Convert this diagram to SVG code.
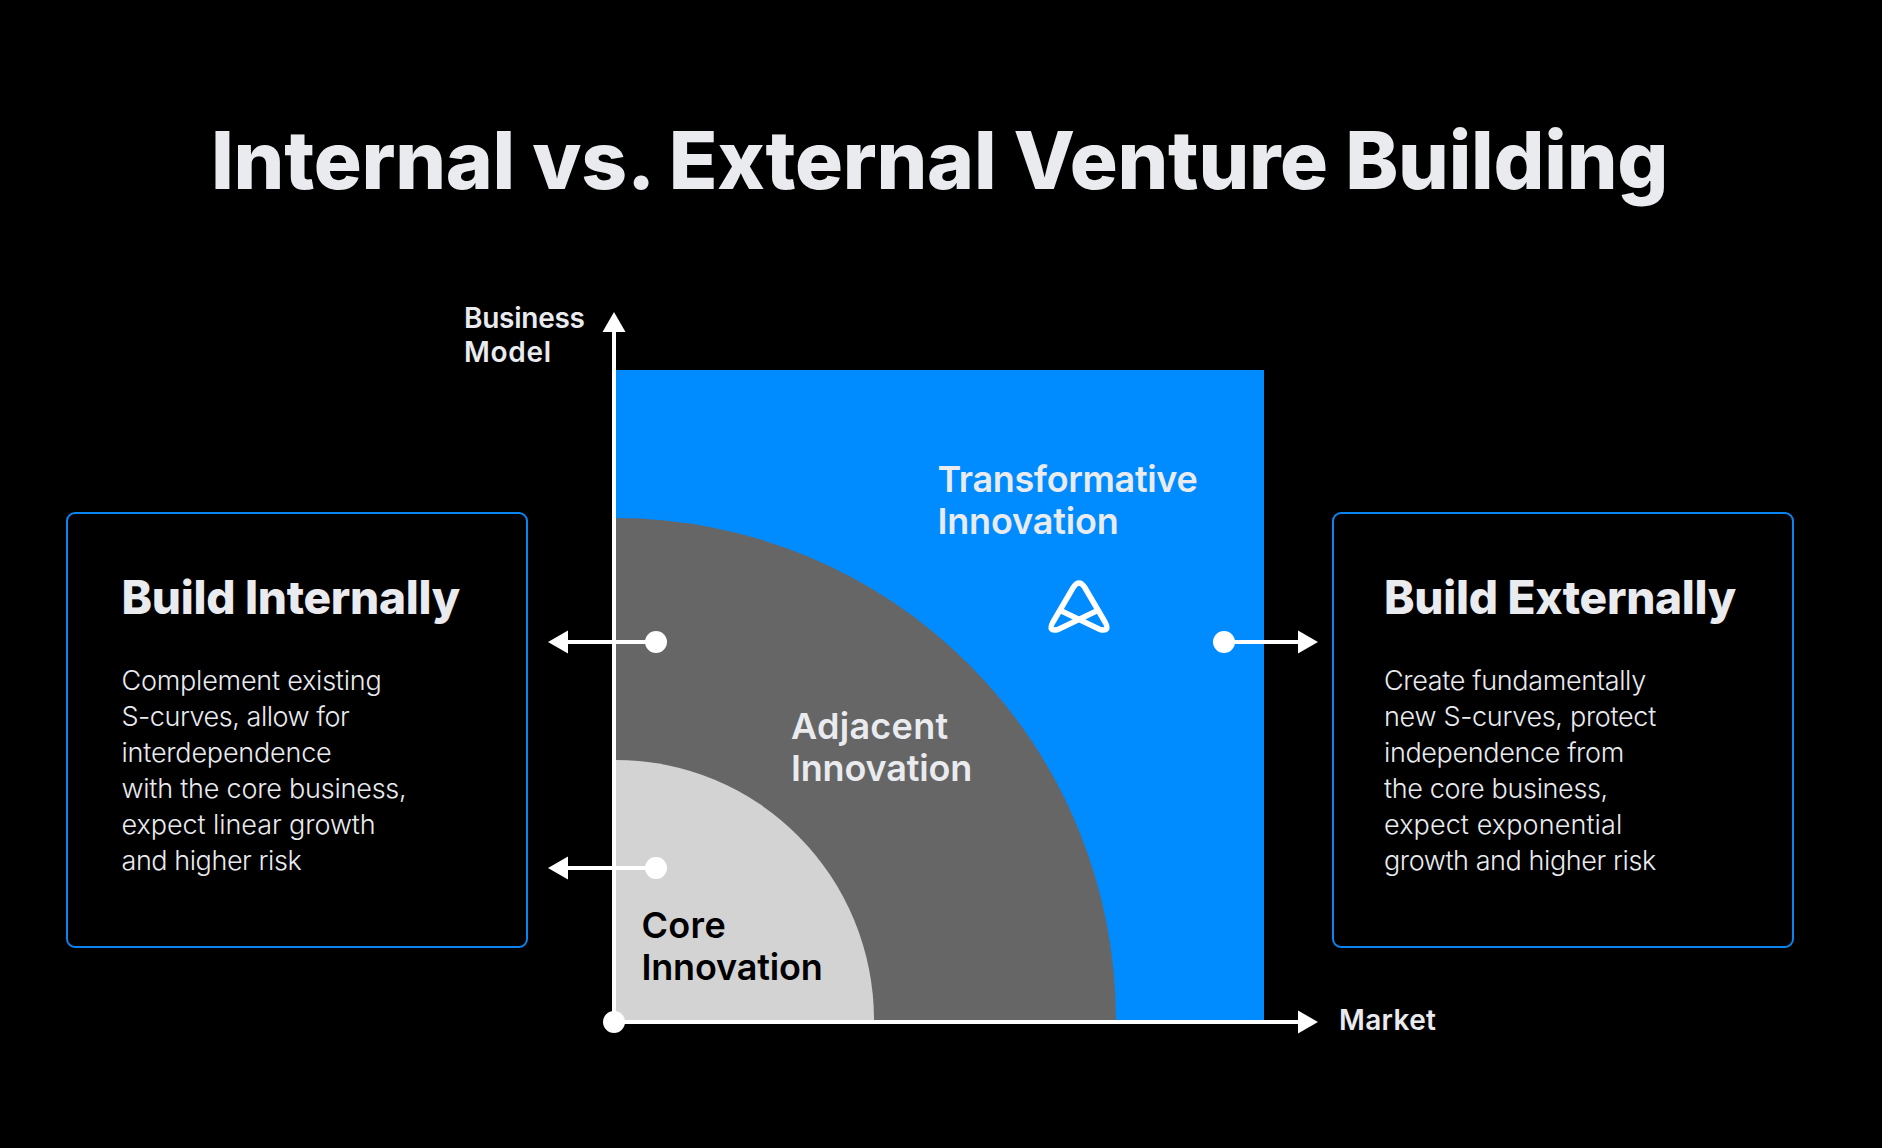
<svg xmlns="http://www.w3.org/2000/svg" width="1882" height="1148" viewBox="0 0 1882 1148">
<style>
text{font-family:Inter,"Liberation Sans",sans-serif;fill:#e9ebef}
.title{font-size:80px;font-weight:800;letter-spacing:-.24px}
.head{font-size:46px;font-weight:800;letter-spacing:-.3px}
.body{font-size:27px;font-weight:300;letter-spacing:-.2px}
.axis{font-size:28px;font-weight:600;letter-spacing:0}
.zone{font-size:36px;font-weight:600;letter-spacing:-.2px}
.dark{fill:#000}
.box{fill:none;stroke:#0a84f0;stroke-width:2}
.ln{stroke:#fff;stroke-width:4;fill:none}
.ah,.dot{fill:#fff}
</style>
<rect width="1882" height="1148" fill="#000"/>
<text id="title" class="title" x="211" y="189">Internal vs. External Venture Building</text>
<g id="transformative">
<rect x="616" y="370" width="648" height="650" fill="#008cff"/>
<text class="zone" x="937.500" y="492" textLength="260">Transformative</text>
<text class="zone" x="937.500" y="534" textLength="181">Innovation</text>
<path d="M1061.500 611L1100 629.500Q1110.500 632 1105 622L1084.500 587Q1079 579 1073.500 587L1053 622Q1047.500 632 1058 629.500L1096.500 611" fill="none" stroke="#fff" stroke-width="5.500" stroke-linejoin="round" stroke-linecap="round"/>
</g>
<g id="adjacent">
<path d="M616 518A500 502 0 0 1 1116 1020H616Z" fill="#666"/>
<text class="zone" x="791" y="739" textLength="157">Adjacent</text>
<text class="zone" x="791" y="781" textLength="181">Innovation</text>
</g>
<g id="core">
<path d="M616 760A258 260 0 0 1 874 1020H616Z" fill="#d3d3d3"/>
<text class="zone dark" x="641.500" y="938" textLength="84">Core</text>
<text class="zone dark" x="641.500" y="980" textLength="181">Innovation</text>
</g>
<g id="internal">
<rect class="box" x="67" y="513" width="460" height="434" rx="8"/>
<text class="head" x="121.500" y="614">Build Internally</text>
<text class="body" x="121.500" y="690" textLength="260">Complement existing</text>
<text class="body" x="121.500" y="726" textLength="228">S-curves, allow for</text>
<text class="body" x="121.500" y="762" textLength="210">interdependence</text>
<text class="body" x="121.500" y="798" textLength="285">with the core business,</text>
<text class="body" x="121.500" y="834" textLength="254">expect linear growth</text>
<text class="body" x="121.500" y="870" textLength="180">and higher risk</text>
</g>
<g id="external">
<rect class="box" x="1333" y="513" width="460" height="434" rx="8"/>
<text class="head" x="1384" y="614">Build Externally</text>
<text class="body" x="1384" y="690" textLength="262">Create fundamentally</text>
<text class="body" x="1384" y="726" textLength="272">new S-curves, protect</text>
<text class="body" x="1384" y="762" textLength="240">independence from</text>
<text class="body" x="1384" y="798" textLength="224">the core business,</text>
<text class="body" x="1384" y="834" textLength="238">expect exponential</text>
<text class="body" x="1384" y="870" textLength="272">growth and higher risk</text>
</g>
<g id="axis-labels">
<text class="axis" x="464" y="328" textLength="121">Business</text>
<text class="axis" x="464" y="362" textLength="87">Model</text>
<text class="axis" x="1339" y="1030" textLength="97">Market</text>
</g>
<g id="connectors">
<path class="ln" d="M614 1022V330M614 1022H1300M656 642H566M656 868H566M1224 642H1300"/>
<path class="ah" d="M614 312L625.500 332H602.500Z"/>
<path class="ah" d="M1318 1022L1298 1010.500V1033.500Z"/>
<path class="ah" d="M1318 642L1298 630.500V653.500Z"/>
<path class="ah" d="M548 642L568 630.500V653.500Z"/>
<path class="ah" d="M548 868L568 856.500V879.500Z"/>
<circle class="dot" cx="614" cy="1022" r="11"/>
<circle class="dot" cx="656" cy="642" r="11"/>
<circle class="dot" cx="656" cy="868" r="11"/>
<circle class="dot" cx="1224" cy="642" r="11"/>
</g>
</svg>
